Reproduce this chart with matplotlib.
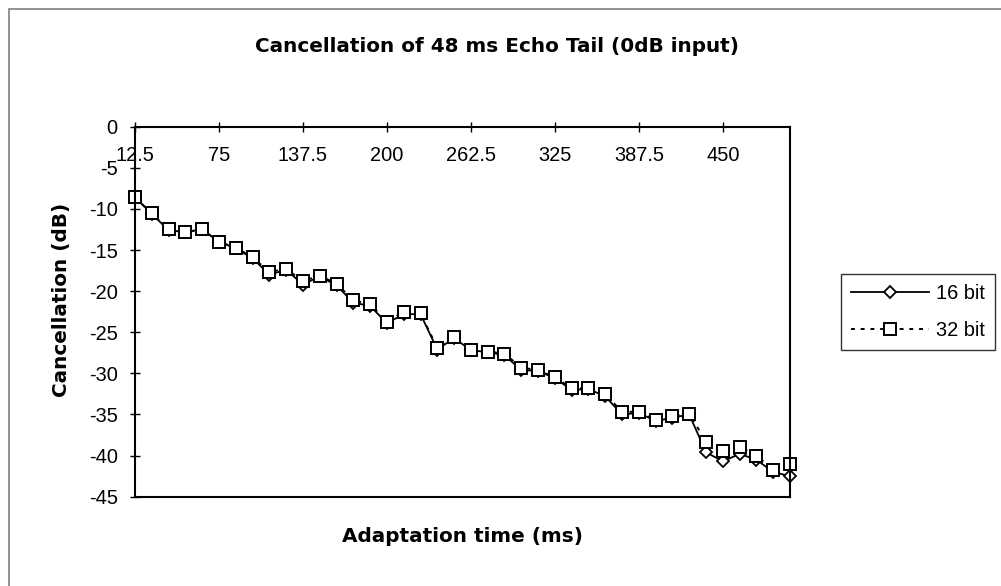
import matplotlib
matplotlib.use('Agg')
import matplotlib.pyplot as plt
from matplotlib.patches import Rectangle
from matplotlib.ticker import FormatStrFormatter

plt.rcParams['axes.unicode_minus'] = False

# adaptation time axis (ms), one point every 12.5 ms
times = [12.5 * (i + 1) for i in range(40)]

# cancellation (dB)
bit32 = [-8.6, -10.55, -12.5, -12.8, -12.5, -14.0, -14.7, -15.9, -17.65, -17.3,
         -18.8, -18.1, -19.1, -21.1, -21.6, -23.7, -22.5, -22.7, -26.9, -25.6,
         -27.1, -27.35, -27.6, -29.3, -29.6, -30.5, -31.8, -31.8, -32.5, -34.7,
         -34.65, -35.7, -35.2, -34.9, -38.3, -39.4, -38.9, -40.0, -41.75, -41.0]
bit16 = [-8.6, -10.6, -12.6, -12.8, -12.5, -14.0, -14.8, -16.0, -18.0, -17.4,
         -19.2, -18.2, -19.3, -21.4, -21.8, -23.9, -22.8, -22.8, -27.1, -25.7,
         -27.2, -27.4, -27.8, -29.6, -29.7, -30.6, -32.0, -31.9, -32.8, -35.0,
         -34.8, -35.8, -35.4, -35.0, -39.6, -40.7, -39.8, -40.5, -42.0, -42.5]

xticks = [12.5, 75, 137.5, 200, 262.5, 325, 387.5, 450]
yticks = [0, -5, -10, -15, -20, -25, -30, -35, -40, -45]

W, H = 1001, 586
fig = plt.figure(figsize=(W / 100, H / 100), dpi=100)
fig.patch.set_facecolor('white')

# chart area frame (only left/top edges visible in the crop)
fig.add_artist(Rectangle((9 / W, -0.1), 1.2, 1 - 9 / H + 0.1, transform=fig.transFigure,
                         fill=False, edgecolor='#808080', lw=1.2, clip_on=False))

ax = fig.add_axes([135 / W, 1 - 496.7 / H, (790 - 135) / W, (496.7 - 126.7) / H])

ax.plot(times, bit16, color='black', lw=1.3, marker='D', ms=6.6,
        mfc='white', mec='black', mew=1.3, label='16 bit', clip_on=False)
ax.plot(times, bit32, color='black', lw=1.4, ls=(0, (2, 3)), marker='s', ms=8.6,
        mfc='white', mec='black', mew=1.4, label='32 bit', clip_on=False)

ax.set_xlim(12.5, 500)
ax.set_ylim(-45, 0)

for s in ax.spines.values():
    s.set_color('black')
    s.set_linewidth(1.5)

tick_font = 'Liberation Sans'
ax.xaxis.tick_top()
ax.set_xticks(xticks)
ax.xaxis.set_major_formatter(FormatStrFormatter('%g'))
ax.tick_params(axis='x', direction='inout', length=7, width=1, pad=-31,
               labelsize=14.4, colors='black')
ax.set_yticks(yticks)
ax.tick_params(axis='y', direction='inout', length=7, width=1, pad=9,
               labelsize=14.4, colors='black')
for lbl in ax.get_xticklabels() + ax.get_yticklabels():
    lbl.set_family(tick_font)

fig.text(497 / W, 1 - 47 / H, 'Cancellation of 48 ms Echo Tail (0dB input)',
         ha='center', va='center', fontsize=14.4, fontweight='bold')
fig.text(462 / W, 1 - 536 / H, 'Adaptation time (ms)',
         ha='center', va='center', fontsize=14.4, fontweight='bold')
fig.text(61 / W, 1 - 300 / H, 'Cancellation (dB)', rotation=90,
         ha='center', va='center', fontsize=14.4, fontweight='bold')

leg = fig.legend(loc='center left', bbox_to_anchor=(841 / W, 1 - 312 / H),
                 frameon=True, fancybox=False, shadow=False,
                 prop={'family': tick_font, 'size': 14.4},
                 handlelength=3.9, handletextpad=0.35, labelspacing=0.9,
                 borderpad=0.5, borderaxespad=0)
leg.get_frame().set_edgecolor('black')
leg.get_frame().set_linewidth(1.0)

fig.savefig('out.png', dpi=100)
